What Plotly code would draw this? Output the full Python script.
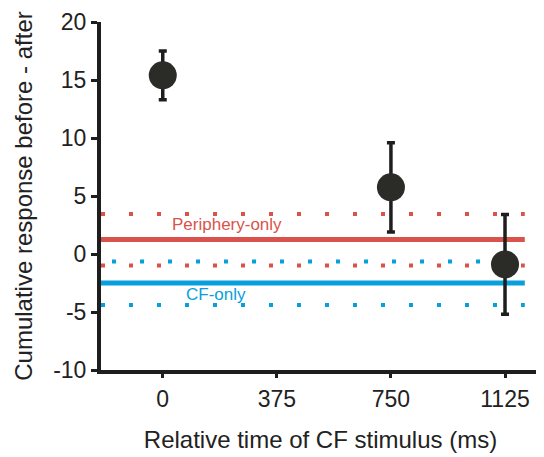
import plotly.graph_objects as go

# Data
x_times = [0, 750, 1125]
y_means = [15.4, 5.75, -0.9]
y_err = [2.1, 3.85, 4.3]

line_x = [-203, 1190]
periph_mean = 1.25
periph_upper = 3.45
periph_lower = -1.0
cf_mean = -2.5
cf_upper = -0.65
cf_lower = -4.4

x_tickvals = [0, 375, 750, 1125]
x_ticktext = ["0", "375", "750", "1125"]
y_tickvals = [-10, -5, 0, 5, 10, 15, 20]
y_ticktext = ["-10", "-5", "0", "5", "10", "15", "20"]

RED = "#d9534c"
BLUE = "#07a0dc"
DARK = "#2b2b27"

fig = go.Figure()

def hline(y, color, dash, width):
    fig.add_trace(go.Scatter(
        x=line_x, y=[y, y], mode="lines",
        line=dict(color=color, width=width, dash=dash),
        hoverinfo="skip", showlegend=False))

hline(periph_upper, RED, "4px,24px", 4)
hline(periph_lower, RED, "4px,24px", 4)
hline(cf_upper, BLUE, "0px,11px,4px,13px", 4)
hline(cf_lower, BLUE, "4px,24px", 4)
hline(periph_mean, RED, "solid", 5)
hline(cf_mean, BLUE, "solid", 5)

fig.add_trace(go.Scatter(
    x=x_times, y=y_means, mode="markers",
    marker=dict(size=28, color=DARK),
    error_y=dict(type="data", array=y_err, color="#1e1e1e", thickness=3.5, width=4),
    showlegend=False))

fig.add_annotation(x=210, y=2.55, text="Periphery-only", showarrow=False,
                   font=dict(family="Liberation Sans, Arial", size=17, color=RED))
fig.add_annotation(x=176, y=-3.5, text="CF-only", showarrow=False,
                   font=dict(family="Liberation Sans, Arial", size=17, color=BLUE))

fig.update_layout(
    width=536, height=449,
    margin=dict(l=93, r=4, t=14, b=87, autoexpand=False),
    paper_bgcolor="white", plot_bgcolor="white",
    font=dict(family="Liberation Sans, Arial", color="#222222"),
    xaxis=dict(range=[-203, 1240], tickvals=x_tickvals, ticktext=x_ticktext,
               showgrid=False, zeroline=False, showline=True, linewidth=4,
               linecolor="#1e1e1e", ticks="outside", ticklen=4, tickwidth=3,
               tickcolor="#1e1e1e", tickfont=dict(size=23), ticklabelstandoff=1,
               automargin=False,
               title=dict(text="Relative time of CF stimulus (ms)", font=dict(size=24), standoff=22)),
    yaxis=dict(range=[-10, 20], tickvals=y_tickvals, ticktext=y_ticktext,
               showgrid=False, zeroline=False, showline=True, linewidth=4,
               linecolor="#1e1e1e", ticks="outside", ticklen=6, tickwidth=3,
               tickcolor="#1e1e1e", tickfont=dict(size=23), automargin=False,
               title=dict(text="Cumulative response before - after", font=dict(size=24), standoff=15)),
)

fig.write_html("out.html")
